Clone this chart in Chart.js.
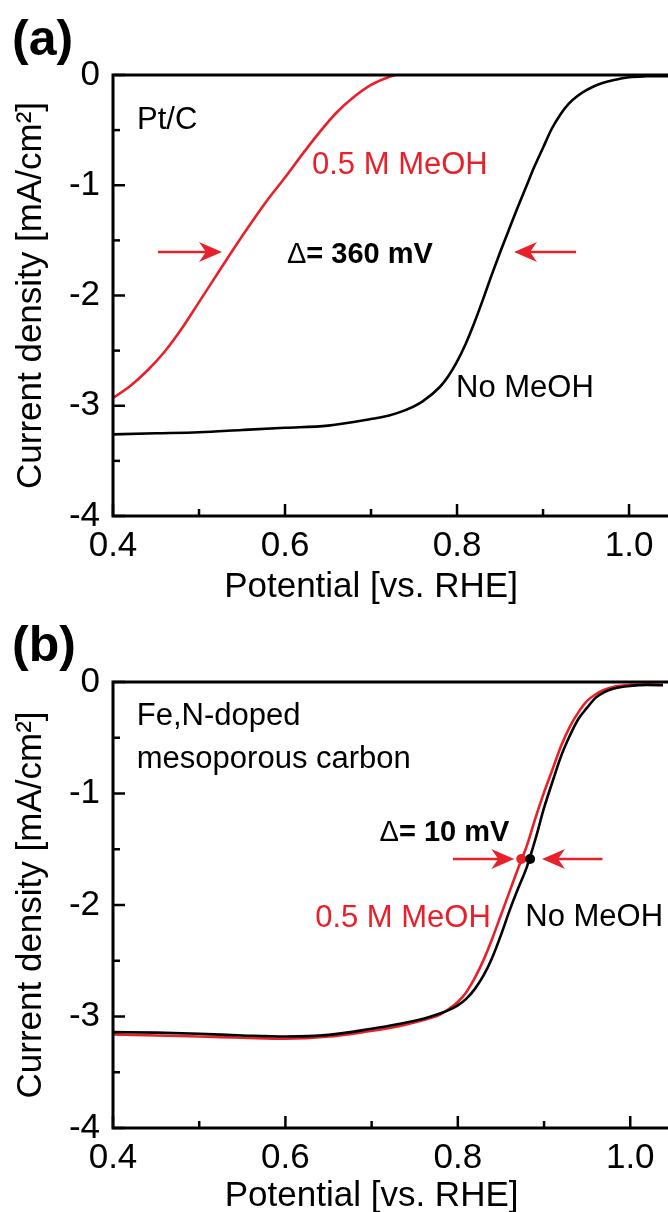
<!DOCTYPE html>
<html>
<head>
<meta charset="utf-8">
<script src="https://cdn.jsdelivr.net/npm/chart.js@4.4.1/dist/chart.umd.min.js"></script>
<style>
  html, body { margin: 0; padding: 0; background: #fff; overflow: hidden; }
  canvas { display: block; }
</style>
</head>
<body>
<canvas id="panel-a" width="668" height="606"></canvas>
<canvas id="panel-b" width="668" height="606"></canvas>
<script>
'use strict';

const RED = '#e8202a';
const FONT = '"Liberation Sans", Arial, Helvetica, sans-serif';

// ---- panel (a): Pt/C ----
const POT_A_NOMEOH = [0.40, 0.45, 0.50, 0.55, 0.60, 0.65, 0.70, 0.72, 0.74, 0.76, 0.78, 0.79, 0.80, 0.81, 0.82, 0.83, 0.84, 0.85, 0.86, 0.87, 0.88, 0.89, 0.90, 0.91, 0.92, 0.93, 0.94, 0.95, 0.96, 0.97, 0.98, 1.00, 1.02, 1.046];
const J_A_NOMEOH = [-3.26, -3.25, -3.24, -3.22, -3.20, -3.18, -3.12, -3.09, -3.04, -2.96, -2.83, -2.73, -2.60, -2.44, -2.25, -2.04, -1.82, -1.61, -1.41, -1.21, -1.02, -0.83, -0.66, -0.49, -0.36, -0.26, -0.19, -0.14, -0.10, -0.07, -0.05, -0.02, -0.012, -0.01];

const POT_A_MEOH = [0.40, 0.42, 0.44, 0.46, 0.48, 0.50, 0.52, 0.54, 0.56, 0.58, 0.60, 0.62, 0.64, 0.66, 0.68, 0.70, 0.72, 0.728];
const J_A_MEOH = [-2.93, -2.82, -2.68, -2.51, -2.30, -2.06, -1.82, -1.58, -1.35, -1.13, -0.93, -0.72, -0.52, -0.34, -0.20, -0.09, -0.02, 0.0];

// ---- panel (b): Fe,N-doped mesoporous carbon ----
const POT_B_NOMEOH = [0.40, 0.45, 0.50, 0.55, 0.60, 0.65, 0.70, 0.73, 0.76, 0.78, 0.79, 0.80, 0.81, 0.82, 0.83, 0.84, 0.85, 0.86, 0.87, 0.88, 0.89, 0.90, 0.91, 0.92, 0.93, 0.94, 0.95, 0.96, 0.97, 0.98, 1.00, 1.02, 1.04];
const J_B_NOMEOH = [-3.14, -3.145, -3.155, -3.17, -3.18, -3.165, -3.11, -3.07, -3.02, -2.97, -2.94, -2.90, -2.84, -2.75, -2.63, -2.47, -2.27, -2.05, -1.85, -1.66, -1.41, -1.13, -0.89, -0.66, -0.48, -0.33, -0.23, -0.14, -0.09, -0.06, -0.035, -0.027, -0.03];

const POT_B_MEOH = [0.40, 0.45, 0.50, 0.55, 0.60, 0.65, 0.69, 0.73, 0.77, 0.78, 0.79, 0.80, 0.81, 0.82, 0.83, 0.84, 0.85, 0.86, 0.87, 0.88, 0.89, 0.90, 0.91, 0.92, 0.93, 0.94, 0.95, 0.96, 0.97, 0.98, 1.00, 1.02, 1.04];
const J_B_MEOH = [-3.16, -3.17, -3.18, -3.19, -3.20, -3.18, -3.14, -3.09, -3.01, -2.98, -2.93, -2.87, -2.78, -2.65, -2.49, -2.30, -2.09, -1.88, -1.67, -1.47, -1.22, -0.99, -0.78, -0.57, -0.40, -0.27, -0.17, -0.11, -0.07, -0.045, -0.025, -0.02, -0.025];

// half-wave markers in (b)
const HALFWAVE_B_POT = [0.8736, 0.8839];
const HALFWAVE_B_J = [-1.587, -1.587];

// axis ticks
const X_MAJOR = [0.4, 0.6, 0.8, 1.0];
const X_MINOR = [0.5, 0.7, 0.9];
const Y_MAJOR = [0, -1, -2, -3, -4];
const Y_MINOR = [-0.5, -1.5, -2.5, -3.5];

const X_TITLE = 'Potential [vs. RHE]';
const Y_TITLE = 'Current density [mA/cm\u00B2]';

const pts = (xs, ys) => xs.map((x, i) => ({ x, y: ys[i] }));

function drawArrow(ctx, xTail, xTip, y) {
  const dir = Math.sign(xTip - xTail);
  const headLen = 23, halfW = 10, notch = 7;
  ctx.strokeStyle = RED;
  ctx.fillStyle = RED;
  ctx.lineWidth = 2.5;
  ctx.beginPath();
  ctx.moveTo(xTail, y);
  ctx.lineTo(xTip - dir * (headLen - notch), y);
  ctx.stroke();
  ctx.beginPath();
  ctx.moveTo(xTip, y);
  ctx.lineTo(xTip - dir * headLen, y - halfW);
  ctx.lineTo(xTip - dir * (headLen - notch), y);
  ctx.lineTo(xTip - dir * headLen, y + halfW);
  ctx.closePath();
  ctx.fill();
}

// frame, inward ticks, labels, arrows
function makeDecor(p) {
  return {
    id: 'decor',
    afterDatasetsDraw(chart) {
      const { ctx, chartArea: a, scales: { x, y } } = chart;
      ctx.save();
      ctx.strokeStyle = '#000';
      ctx.lineWidth = 3;
      ctx.beginPath();
      ctx.moveTo(chart.width, a.top);
      ctx.lineTo(a.left, a.top);
      ctx.lineTo(a.left, a.bottom);
      ctx.lineTo(chart.width, a.bottom);
      ctx.stroke();

      ctx.lineWidth = 2.5;
      const tick = (x1, y1, x2, y2) => { ctx.beginPath(); ctx.moveTo(x1, y1); ctx.lineTo(x2, y2); ctx.stroke(); };
      X_MAJOR.forEach(v => { const px = x.getPixelForValue(v); tick(px, a.bottom, px, a.bottom - 12); });
      X_MINOR.forEach(v => { const px = x.getPixelForValue(v); tick(px, a.bottom, px, a.bottom - 7); });
      Y_MAJOR.forEach(v => { const py = y.getPixelForValue(v); tick(a.left, py, a.left + 12, py); });
      Y_MINOR.forEach(v => { const py = y.getPixelForValue(v); tick(a.left, py, a.left + 7, py); });
      ctx.restore();
    },
    afterDraw(chart) {
      const { ctx, chartArea: a, scales: { x, y } } = chart;
      ctx.save();
      ctx.textAlign = 'left';
      ctx.textBaseline = 'alphabetic';

      // panel letter
      ctx.fillStyle = '#000';
      ctx.font = 'bold 50px ' + FONT;
      ctx.fillText(p.letter, 12, 55);

      // x axis title
      ctx.font = '35px ' + FONT;
      ctx.textAlign = 'center';
      ctx.fillText(X_TITLE, x.getPixelForValue(0.70), a.bottom + p.xTitleOffset);
      ctx.textAlign = 'left';

      // notes
      ctx.font = '31px ' + FONT;
      p.notes.forEach(n => {
        ctx.fillStyle = n.color;
        ctx.fillText(n.text, x.getPixelForValue(n.x), y.getPixelForValue(n.y));
      });

      // delta label
      const dx = x.getPixelForValue(p.delta.x);
      const dy = y.getPixelForValue(p.delta.y);
      ctx.fillStyle = '#000';
      ctx.font = '29px ' + FONT;
      ctx.fillText('\u0394', dx, dy);
      const w = ctx.measureText('\u0394').width;
      ctx.font = 'bold 29px ' + FONT;
      ctx.fillText('= ' + p.delta.text, dx + w, dy);

      // arrows
      p.arrows.forEach(ar => {
        drawArrow(ctx, x.getPixelForValue(ar.from), x.getPixelForValue(ar.to), y.getPixelForValue(ar.y));
      });
      ctx.restore();
    },
  };
}

function makePanel(canvasId, p) {
  const datasets = [];
  if (p.markers) {
    datasets.push({
      data: pts(p.markers.x, p.markers.y),
      showLine: false,
      pointRadius: 5,
      pointBorderWidth: 0,
      pointBackgroundColor: [RED, '#000'],
      order: 0,
    });
  }
  datasets.push({
    label: 'No MeOH',
    data: pts(p.noMeoh.x, p.noMeoh.y),
    borderColor: '#000',
    borderWidth: 2.6,
    pointRadius: 0,
    cubicInterpolationMode: 'monotone',
    order: 1,
  });
  datasets.push({
    label: '0.5 M MeOH',
    data: pts(p.meoh.x, p.meoh.y),
    borderColor: RED,
    borderWidth: 2.6,
    pointRadius: 0,
    cubicInterpolationMode: 'monotone',
    order: 2,
  });

  return new Chart(document.getElementById(canvasId), {
    type: 'line',
    data: { datasets },
    options: {
      responsive: false,
      animation: false,
      devicePixelRatio: 1,
      layout: { padding: { top: p.top, left: 0, right: 0, bottom: 0 } },
      plugins: { legend: { display: false }, tooltip: { enabled: false } },
      scales: {
        x: {
          type: 'linear',
          min: 0.4,
          max: p.xMax,
          grid: { display: false, drawTicks: false },
          border: { display: false },
          ticks: {
            stepSize: 0.2,
            includeBounds: false,
            autoSkip: false,
            maxRotation: 0,
            padding: 9,
            color: '#000',
            font: { family: FONT, size: 35 },
            callback: (v) => Number(v).toFixed(1),
          },
          afterFit: (s) => { s.height = p.xAxisHeight; },
        },
        y: {
          type: 'linear',
          min: -4,
          max: 0,
          grid: { display: false, drawTicks: false },
          border: { display: false },
          ticks: {
            stepSize: 1,
            autoSkip: false,
            padding: 13,
            color: '#000',
            font: { family: FONT, size: 35 },
            callback: (v) => String(Math.round(v)),
          },
          title: {
            display: true,
            text: Y_TITLE,
            color: '#000',
            font: { family: FONT, size: 35 },
            padding: { top: 10, bottom: 0 },
          },
          afterFit: (s) => { s.width = 113; },
        },
      },
    },
    plugins: [makeDecor(p)],
  });
}

makePanel('panel-a', {
  letter: '(a)',
  top: 75,
  xAxisHeight: 90,
  xMax: 1.0453,
  xTitleOffset: 81,
  noMeoh: { x: POT_A_NOMEOH, y: J_A_NOMEOH },
  meoh: { x: POT_A_MEOH, y: J_A_MEOH },
  notes: [
    { text: 'Pt/C', x: 0.428, y: -0.49, color: '#000' },
    { text: '0.5 M MeOH', x: 0.6314, y: -0.898, color: RED },
    { text: 'No MeOH', x: 0.7988, y: -2.92, color: '#000' },
  ],
  delta: { text: '360 mV', x: 0.6023, y: -1.705 },
  arrows: [
    { from: 0.4523, to: 0.5267, y: -1.605 },
    { from: 0.9384, to: 0.8663, y: -1.605 },
  ],
});

makePanel('panel-b', {
  letter: '(b)',
  top: 76,
  xAxisHeight: 84,
  xMax: 1.038,
  xTitleOffset: 78,
  noMeoh: { x: POT_B_NOMEOH, y: J_B_NOMEOH },
  meoh: { x: POT_B_MEOH, y: J_B_MEOH },
  markers: { x: HALFWAVE_B_POT, y: HALFWAVE_B_J },
  notes: [
    { text: 'Fe,N-doped', x: 0.4276, y: -0.386, color: '#000' },
    { text: 'mesoporous carbon', x: 0.4276, y: -0.771, color: '#000' },
    { text: '0.5 M MeOH', x: 0.6345, y: -2.197, color: RED },
    { text: 'No MeOH', x: 0.8782, y: -2.188, color: '#000' },
  ],
  delta: { text: '10 mV', x: 0.7092, y: -1.426 },
  arrows: [
    { from: 0.7943, to: 0.8655, y: -1.587 },
    { from: 0.9678, to: 0.8977, y: -1.587 },
  ],
});
</script>
</body>
</html>
